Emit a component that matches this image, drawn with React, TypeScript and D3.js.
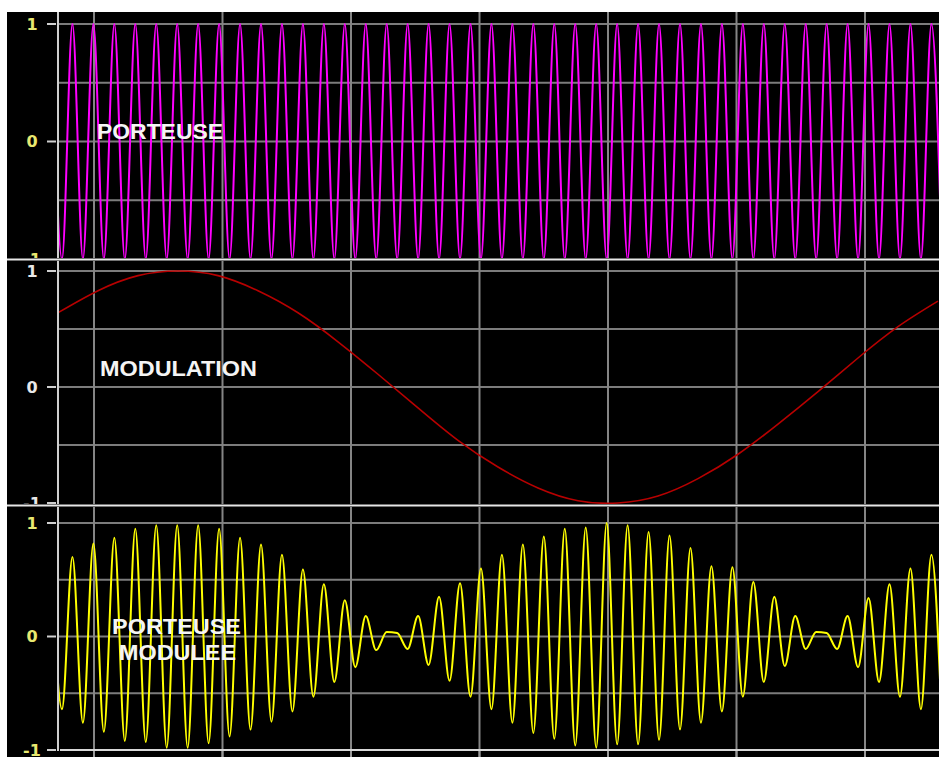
import React from 'react';
import * as d3 from 'd3';

// samples are taken at each carrier half-period (extremes), starting before the visible window
const sampleStart = -6.5;
const sampleStep = 10.475;

const carrierValues = [
  1, -1, 1, -1, 1, -1, 1, -1, 1, -1, 1, -1, 1, -1, 1, -1, 1, -1, 1, -1,
  1, -1, 1, -1, 1, -1, 1, -1, 1, -1, 1, -1, 1, -1, 1, -1, 1, -1, 1, -1,
  1, -1, 1, -1, 1, -1, 1, -1, 1, -1, 1, -1, 1, -1, 1, -1, 1, -1, 1, -1,
  1, -1, 1, -1, 1, -1, 1, -1, 1, -1, 1, -1, 1, -1, 1, -1, 1, -1, 1, -1,
  1, -1, 1, -1, 1, -1,
];

const modTimes = [0, 40, 80, 120, 160, 200, 240, 280, 320, 360, 400, 440, 480, 520, 560, 600, 640, 680, 720, 760, 800, 840, 880];
const modValues = [0.64, 0.83, 0.96, 1.0, 0.96, 0.83, 0.64, 0.39, 0.11, -0.18, -0.46, -0.69, -0.87, -0.98, -1.0, -0.94, -0.79, -0.58, -0.32, -0.04, 0.25, 0.52, 0.74];

const amValues = [
  0.6, -0.64, 0.7, -0.76, 0.82, -0.84, 0.87, -0.92, 0.95, -0.93,
  0.98, -0.98, 0.98, -0.98, 0.98, -0.94, 0.95, -0.88, 0.87, -0.82,
  0.81, -0.75, 0.72, -0.66, 0.59, -0.53, 0.46, -0.4, 0.32, -0.27,
  0.18, -0.12, 0.04, 0.03, -0.11, 0.18, -0.25, 0.35, -0.39, 0.47,
  -0.53, 0.6, -0.64, 0.72, -0.76, 0.81, -0.85, 0.88, -0.9, 0.95,
  -0.96, 0.96, -0.98, 1.0, -0.95, 0.98, -0.95, 0.92, -0.91, 0.89,
  -0.82, 0.78, -0.76, 0.62, -0.66, 0.61, -0.53, 0.48, -0.4, 0.35,
  -0.26, 0.18, -0.11, 0.04, 0.03, -0.11, 0.18, -0.27, 0.34, -0.4,
  0.46, -0.53, 0.6, -0.64, 0.72, -0.77,
];

const gridTimes = [36, 164.5, 293, 421.5, 550, 678.5, 807];
const gridLevels = [1, 0.5, 0, -0.5];
const tickValues = [1, 0, -1];
const tickLabels = ['1', '0', '-1'];

const W = 939;
const H = 757;

const panels = [
  { key: 'p', top: 12, bottom: 258, y1: 24, ym1: 259, color: '#ff00ff', width: 2, labelColor: '#e8e870',
    title: ['PORTEUSE'], tx: [97], ty: [139], tw: [126] },
  { key: 'm', top: 261, bottom: 504, y1: 271, ym1: 503, color: '#b80000', width: 1.6, labelColor: '#e8e8e8',
    title: ['MODULATION'], tx: [100], ty: [376], tw: [157] },
  { key: 'a', top: 507, bottom: 757, y1: 523, ym1: 750, color: '#ffff00', width: 2, labelColor: '#e8e870',
    title: ['PORTEUSE', 'MODULEE'], tx: [112, 119], ty: [634, 660], tw: [129, 117] },
];

const App = () => {
  const x = d3.scaleLinear().domain([0, 880]).range([58, 938]);

  const sampled = (vals: number[]) => vals.map((v, i) => ({ t: sampleStart + i * sampleStep, v }));
  const series = [
    sampled(carrierValues),
    modTimes.map((t, i) => ({ t, v: modValues[i] })),
    sampled(amValues),
  ];

  return (
    <svg width={W} height={H} style={{ position: 'absolute', left: 0, top: 0 }} fontFamily="'Liberation Sans', Arial, sans-serif">
      <rect x={0} y={0} width={W} height={H} fill="#fff" />
      <rect x={7} y={12} width={W - 7} height={H - 12} fill="#000" />
      <defs>
        {panels.map((p) => (
          <React.Fragment key={p.key}>
            <clipPath id={`clip-${p.key}`}>
              <rect x={7} y={p.top} width={W - 7} height={p.bottom - p.top} />
            </clipPath>
            <clipPath id={`plot-${p.key}`}>
              <rect x={59} y={p.top} width={W - 59} height={p.bottom - p.top} />
            </clipPath>
          </React.Fragment>
        ))}
      </defs>
      {panels.map((p, pi) => {
        const y = d3.scaleLinear().domain([-1, 1]).range([p.ym1, p.y1]);
        const line = d3.line<{ t: number; v: number }>()
          .x((d) => x(d.t))
          .y((d) => y(d.v))
          .curve(pi === 1 ? d3.curveNatural : d3.curveMonotoneX);
        return (
          <g key={p.key} clipPath={`url(#clip-${p.key})`}>
            {gridLevels.map((g) => (
              <line key={g} x1={58} x2={W} y1={y(g)} y2={y(g)} stroke="#7c7c7c" strokeWidth={2} />
            ))}
            {gridTimes.map((g) => (
              <line key={g} x1={x(g)} x2={x(g)} y1={p.top} y2={p.bottom} stroke="#858585" strokeWidth={2} />
            ))}
            <g clipPath={`url(#plot-${p.key})`}>
              <path d={line(series[pi]) ?? ''} fill="none" stroke={p.color} strokeWidth={p.width} strokeLinejoin="round" />
            </g>
            <line x1={58} x2={58} y1={p.top} y2={Math.min(p.bottom, 751)} stroke="#cfcfcf" strokeWidth={2} />
            {tickValues.map((t, ti) => (
              <g key={t}>
                <line x1={47} x2={56} y1={y(t)} y2={y(t)} stroke="#cfcfcf" strokeWidth={2} />
                <text x={32} y={y(t)} dy="0.37em" textAnchor="middle" fill={p.labelColor} fontSize={16} fontWeight="bold"
                  fontFamily="'DejaVu Sans', Verdana, sans-serif">
                  {tickLabels[ti]}
                </text>
              </g>
            ))}
            {p.title.map((s, si) => (
              <text key={s} x={p.tx[si]} y={p.ty[si]} fill="#f4f4f4" fontSize={22} fontWeight="bold"
                textLength={p.tw[si]} lengthAdjust="spacingAndGlyphs">
                {s}
              </text>
            ))}
          </g>
        );
      })}
      <line x1={7} x2={W} y1={259.5} y2={259.5} stroke="#e6e6e6" strokeWidth={2} />
      <line x1={7} x2={W} y1={505.5} y2={505.5} stroke="#e6e6e6" strokeWidth={2} />
      <line x1={60} x2={W} y1={750} y2={750} stroke="#d8d8d8" strokeWidth={2} />
      {gridTimes.map((g) => (
        <line key={g} x1={x(g)} x2={x(g)} y1={751} y2={H} stroke="#9a9a9a" strokeWidth={2} />
      ))}
    </svg>
  );
};

export default App;
